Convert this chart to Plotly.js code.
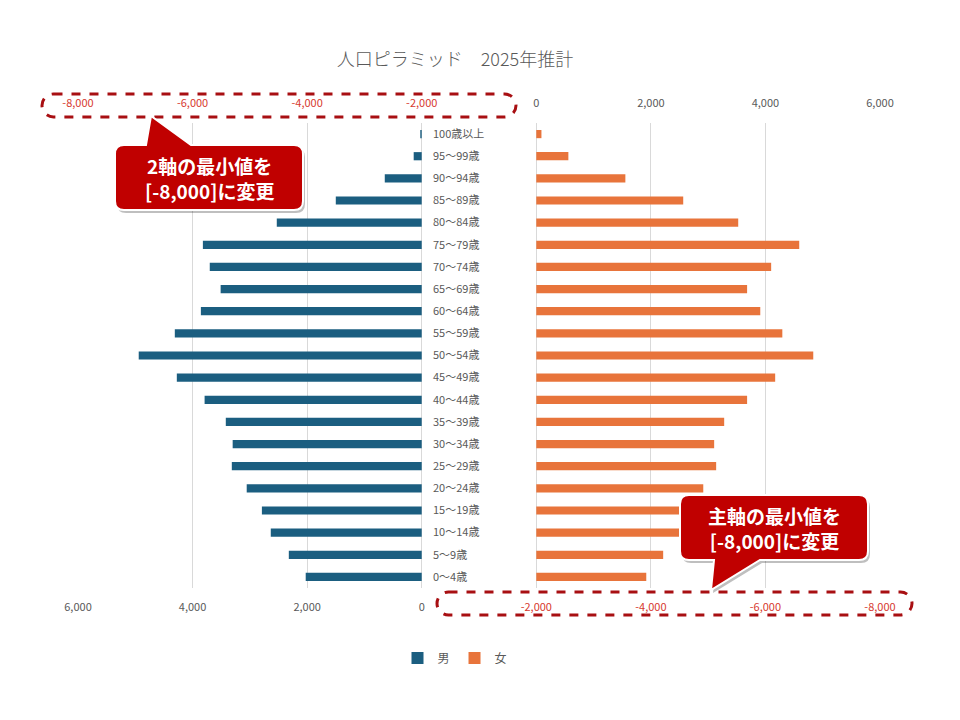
<!DOCTYPE html>
<html>
<head>
<meta charset="utf-8">
<script src="https://cdn.plot.ly/plotly-3.0.1.min.js"></script>
<style>html,body{margin:0;padding:0;background:#fff;}#chart{width:960px;height:720px;}</style>
</head>
<body>
<div id="chart"></div>
<script>
// ---- data ----
const ages = ["0～4歳","5～9歳","10～14歳","15～19歳","20～24歳","25～29歳","30～34歳","35～39歳","40～44歳","45～49歳","50～54歳","55～59歳","60～64歳","65～69歳","70～74歳","75～79歳","80～84歳","85～89歳","90～94歳","95～99歳","100歳以上"];
const male   = [2025,2320,2635,2790,3055,3315,3300,3420,3790,4275,4940,4310,3855,3510,3700,3820,2530,1500,645,140,25];
const female = [1920,2215,2510,2650,2915,3140,3105,3280,3680,4170,4835,4295,3910,3680,4100,4590,3525,2565,1555,560,90];
const primaryTicks   = [6000,4000,2000,0,-2000,-4000,-6000,-8000];
const secondaryTicks = [-8000,-6000,-4000,-2000,0,2000,4000,6000];
const calloutTop = "2軸の最小値を<br>[-8,000]に変更";
const calloutBottom = "主軸の最小値を<br>[-8,000]に変更";

// ---- layout helpers ----
const L = 78, R = 880, T = 123, B = 588;
const W = R - L, H = B - T;
const px = x => (x - L) / W;
const py = y => (B - y) / H;
const fmt = v => v.toLocaleString('en-US');
const RED = '#D7392F', GRAY = '#595959';
const lbl = v => v < 0 ? '<span style="color:' + RED + '">' + fmt(v) + '</span>' : fmt(v);

function P(x, y) { return px(x).toFixed(5) + ',' + py(y).toFixed(5); }
function pill(x0, y0, x1, y1) {
  const r = (y1 - y0) / 2, k = r * 0.55;
  return 'M' + P(x0 + r, y0) + ' L' + P(x1 - r, y0) +
    ' C' + P(x1 - r + k, y0) + ' ' + P(x1, y0 + r - k) + ' ' + P(x1, y0 + r) +
    ' C' + P(x1, y0 + r + k) + ' ' + P(x1 - r + k, y1) + ' ' + P(x1 - r, y1) +
    ' L' + P(x0 + r, y1) +
    ' C' + P(x0 + r - k, y1) + ' ' + P(x0, y0 + r + k) + ' ' + P(x0, y0 + r) +
    ' C' + P(x0, y0 + r - k) + ' ' + P(x0 + r - k, y0) + ' ' + P(x0 + r, y0) + ' Z';
}
function callout(x0, y0, x1, y1, ptr, dx, dy) {
  dx = dx || 0; dy = dy || 0;
  x0 += dx; x1 += dx; y0 += dy; y1 += dy;
  const r = 9;
  const a = ptr.a + dx, b = ptr.b + dx, tx = ptr.tx + dx, ty = ptr.ty + dy;
  let d = 'M' + P(x0 + r, y0);
  if (ptr.side === 'top') d += ' L' + P(a, y0) + ' L' + P(tx, ty) + ' L' + P(b, y0);
  d += ' L' + P(x1 - r, y0) + ' Q' + P(x1, y0) + ' ' + P(x1, y0 + r);
  d += ' L' + P(x1, y1 - r) + ' Q' + P(x1, y1) + ' ' + P(x1 - r, y1);
  if (ptr.side === 'bottom') d += ' L' + P(b, y1) + ' L' + P(tx, ty) + ' L' + P(a, y1);
  d += ' L' + P(x0 + r, y1) + ' Q' + P(x0, y1) + ' ' + P(x0, y1 - r);
  d += ' L' + P(x0, y0 + r) + ' Q' + P(x0, y0) + ' ' + P(x0 + r, y0) + ' Z';
  return d;
}

const FONT = '"Noto Sans CJK JP", "Noto Sans", sans-serif';

const traces = [
  { type: 'bar', orientation: 'h', name: '男', x: male, y: ages, xaxis: 'x', yaxis: 'y',
    marker: { color: '#1B5E80' }, hoverinfo: 'x+y' },
  { type: 'bar', orientation: 'h', name: '女', x: female, y: ages, xaxis: 'x2', yaxis: 'y',
    marker: { color: '#E8743B' }, hoverinfo: 'x+y' }
];

const topBox = { x0: 115, y0: 145, x1: 303, y1: 210, ptr: { side: 'top', a: 146, b: 191, tx: 151, ty: 116 } };
const botBox = { x0: 680, y0: 495, x1: 868, y1: 560, ptr: { side: 'bottom', a: 714, b: 760, tx: 711, ty: 590 } };

const shapes = [
  { type: 'path', xref: 'paper', yref: 'paper', path: pill(437, 592, 912, 615),
    line: { color: '#A80F12', width: 3, dash: 'dash' }, fillcolor: 'rgba(0,0,0,0)' },
  { type: 'path', xref: 'paper', yref: 'paper', path: pill(42, 94, 516, 117),
    line: { color: '#A80F12', width: 3, dash: 'dash' }, fillcolor: 'rgba(0,0,0,0)' },
  { type: 'path', xref: 'paper', yref: 'paper', path: callout(topBox.x0, topBox.y0, topBox.x1, topBox.y1, topBox.ptr, 2, 3),
    line: { width: 0 }, fillcolor: 'rgba(0,0,0,0.25)' },
  { type: 'path', xref: 'paper', yref: 'paper', path: callout(botBox.x0, botBox.y0, botBox.x1, botBox.y1, botBox.ptr, 2, 3),
    line: { width: 0 }, fillcolor: 'rgba(0,0,0,0.25)' },
  { type: 'path', xref: 'paper', yref: 'paper', path: callout(topBox.x0, topBox.y0, topBox.x1, topBox.y1, topBox.ptr),
    line: { color: '#ffffff', width: 2 }, fillcolor: '#C00000' },
  { type: 'path', xref: 'paper', yref: 'paper', path: callout(botBox.x0, botBox.y0, botBox.x1, botBox.y1, botBox.ptr),
    line: { color: '#ffffff', width: 2 }, fillcolor: '#C00000' }
];

const annotations = [
  { xref: 'paper', yref: 'paper', x: px((topBox.x0 + topBox.x1) / 2), y: py((topBox.y0 + topBox.y1) / 2),
    text: calloutTop, showarrow: false, xanchor: 'center', yanchor: 'middle',
    font: { family: FONT, size: 19, color: '#ffffff', weight: 700 }, align: 'center' },
  { xref: 'paper', yref: 'paper', x: px((botBox.x0 + botBox.x1) / 2), y: py((botBox.y0 + botBox.y1) / 2),
    text: calloutBottom, showarrow: false, xanchor: 'center', yanchor: 'middle',
    font: { family: FONT, size: 19, color: '#ffffff', weight: 700 }, align: 'center' }
];

const axisFont = { family: FONT, size: 11, color: GRAY };

const layout = {
  width: 960, height: 720,
  margin: { l: L, r: 960 - R, t: T, b: 720 - B, pad: 0 },
  paper_bgcolor: '#ffffff', plot_bgcolor: '#ffffff',
  title: { text: '人口ピラミッド　2025年推計', x: 455 / 960, xref: 'container', xanchor: 'center',
           y: 1 - 60 / 720, yref: 'container', yanchor: 'middle',
           font: { family: FONT, size: 18, color: GRAY, weight: 300 } },
  barmode: 'overlay', bargap: 0.63,
  showlegend: true,
  legend: { orientation: 'h', xref: 'container', yref: 'container', x: 455 / 960, xanchor: 'center',
            y: 1 - 658 / 720, yanchor: 'middle', font: { family: FONT, size: 12, color: GRAY },
            itemwidth: 30, tracegroupgap: 0 },
  xaxis: { range: [6000, -8000], tickvals: primaryTicks, ticktext: primaryTicks.map(lbl),
           showgrid: true, gridcolor: '#D9D9D9', gridwidth: 1, zeroline: false, showline: false,
           ticks: 'outside', ticklen: 9, tickcolor: 'rgba(0,0,0,0)', tickfont: axisFont, fixedrange: true },
  xaxis2: { overlaying: 'x', side: 'top', range: [-8000, 6000], tickvals: secondaryTicks,
            ticktext: secondaryTicks.map(lbl), showgrid: false, zeroline: false, showline: false,
            ticks: 'outside', ticklen: 11, tickcolor: 'rgba(0,0,0,0)', tickfont: axisFont, fixedrange: true },
  yaxis: { type: 'category', categoryorder: 'array', categoryarray: ages, anchor: 'free',
           position: px(432), side: 'right', showgrid: false, zeroline: false, showline: false,
           ticks: '', tickfont: axisFont, fixedrange: true },
  shapes: shapes,
  annotations: annotations
};

Plotly.newPlot('chart', traces, layout, { displayModeBar: false, staticPlot: true });
</script>
</body>
</html>
